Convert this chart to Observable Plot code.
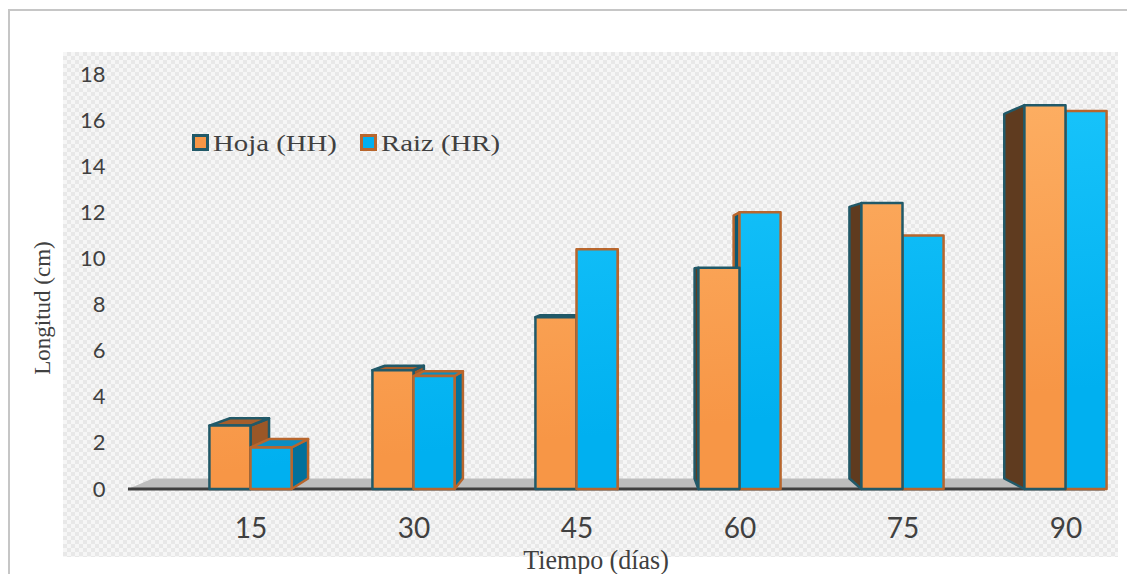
<!DOCTYPE html>
<html><head><meta charset="utf-8">
<script src="https://cdn.jsdelivr.net/npm/d3@7"></script>
<script src="https://cdn.jsdelivr.net/npm/@observablehq/plot@0.6"></script>
<style>
html,body{margin:0;padding:0;background:#fff;}
#wrap{position:relative;width:1127px;height:574px;overflow:hidden;}
#frame{position:absolute;left:8px;top:9px;width:1200px;height:700px;border:2px solid #c6c6c6;box-sizing:border-box;}
#bg{position:absolute;left:63px;top:52px;width:1055px;height:505px;background:repeating-conic-gradient(#e8e8e8 0% 25%, #f6f6f6 0% 50%) 0 0/8px 8px;}
#chart{position:absolute;left:0;top:0;}
#overlay{position:absolute;left:0;top:0;}
</style></head><body>
<div id="wrap"><div id="frame"></div><div id="bg"></div><div id="chart"></div><svg id="overlay" width="1127" height="574"></svg></div>
<script>
// ---- data ----
const dias = ["15", "30", "45", "60", "75", "90"];
const hoja = [2.75, 5.15, 7.45, 9.6, 12.4, 16.65];
const raiz = [1.8, 4.9, 10.4, 12.0, 11.0, 16.4];
const series = ["Hoja (HH)", "Raiz (HR)"];
const yTicks = [0, 2, 4, 6, 8, 10, 12, 14, 16, 18];

const rows = dias.flatMap((d, i) => [
  {dia: d, serie: series[0], value: hoja[i]},
  {dia: d, serie: series[1], value: raiz[i]}
]);

// ---- styles ----
const look = {
  "Hoja (HH)": {grad: "gHH", c0: "#ffb86e", c1: "#f79646", top: "#a65e2b", right: "#9b5727", left: "#5f3b1f", stroke: "#215968", swatch: "#f79646"},
  "Raiz (HR)": {grad: "gHR", c0: "#22ccff", c1: "#00b0f0", top: "#0b8ec2", right: "#02709b", left: "#0d5870", stroke: "#b8662d", swatch: "#00b0f0"}
};

function draw3D(index, scales, values, dims) {
  const X = scales.x, Y = scales.y;
  const bw = X.bandwidth();
  const barW = bw * 0.252;
  const Vx = dims.marginLeft + (dims.width - dims.marginLeft - dims.marginRight) * 0.505;
  const Vy = Y(9.1);
  const s = 0.95;
  const bk = ([x, y]) => [s * x + (1 - s) * Vx, s * y + (1 - s) * Vy];
  const P = pts => pts.map(p => p.join(",")).join(" ");
  const g = d3.create("svg:g");
  const defs = g.append("defs");
  for (const k of series) {
    const L = look[k];
    const lg = defs.append("linearGradient").attr("id", L.grad)
      .attr("gradientUnits", "userSpaceOnUse")
      .attr("x1", 0).attr("x2", 40).attr("y1", Y(18)).attr("y2", Y(0));
    lg.append("stop").attr("offset", "0%").attr("stop-color", L.c0);
    lg.append("stop").attr("offset", "100%").attr("stop-color", L.c1);
  }
  // floor
  const fx0 = dims.marginLeft, fx1 = dims.width - dims.marginRight, fy = Y(0);
  g.append("polygon").attr("points", P([[fx0, fy], [fx1, fy], bk([fx1, fy]), bk([fx0, fy])])).attr("fill", "#bdbdbd");
  g.append("line").attr("x1", fx0).attr("x2", fx1).attr("y1", fy).attr("y2", fy)
    .attr("stroke", "#3f3f3f").attr("stroke-width", 3);
  // bars
  const bars = Array.from(index, i => {
    const d = rows[i];
    const c = X(d.dia) + bw / 2;
    const x0 = d.serie === series[0] ? c - barW : c;
    return {d, x0, x1: x0 + barW, yt: Y(d.value), yb: Y(0), mid: x0 + barW / 2};
  });
  bars.sort((a, b) => Math.abs(b.mid - Vx) - Math.abs(a.mid - Vx));
  for (const b of bars) {
    const L = look[b.d.serie];
    const sw = 2.5;
    if (b.x1 < Vx) {
      g.append("polygon").attr("points", P([[b.x1, b.yt], [b.x1, b.yb], bk([b.x1, b.yb]), bk([b.x1, b.yt])]))
        .attr("fill", L.right).attr("stroke", L.stroke).attr("stroke-width", sw).attr("stroke-linejoin", "round");
    }
    if (b.x0 > Vx) {
      g.append("polygon").attr("points", P([[b.x0, b.yt], [b.x0, b.yb], bk([b.x0, b.yb]), bk([b.x0, b.yt])]))
        .attr("fill", L.left).attr("stroke", L.stroke).attr("stroke-width", sw).attr("stroke-linejoin", "round");
    }
    if (b.yt > Vy) {
      g.append("polygon").attr("points", P([[b.x0, b.yt], [b.x1, b.yt], bk([b.x1, b.yt]), bk([b.x0, b.yt])]))
        .attr("fill", L.top).attr("stroke", L.stroke).attr("stroke-width", sw).attr("stroke-linejoin", "round");
    }
    g.append("rect").attr("x", b.x0).attr("y", b.yt).attr("width", b.x1 - b.x0).attr("height", b.yb - b.yt)
      .attr("fill", `url(#${L.grad})`).attr("stroke", L.stroke).attr("stroke-width", sw).attr("stroke-linejoin", "round");
  }
  return g.node();
}

const chart = Plot.plot({
  width: 1127,
  height: 574,
  marginLeft: 128,
  marginRight: 22,
  marginTop: 74,
  marginBottom: 85,
  style: {background: "transparent", color: "#404040", fontFamily: "Lato, 'Open Sans', sans-serif"},
  x: {type: "band", domain: dias, range: [168.35, 1148.15], padding: 0},
  y: {domain: [0, 18]},
  marks: [
    Plot.barY(rows, {x: "dia", y: "value", fill: d => look[d.serie].swatch, render: draw3D}),
    Plot.axisY(yTicks, {tickSize: 0, tickPadding: 23, fontSize: 22, label: null}),
    Plot.axisX({tickSize: 0, tickPadding: 29, fontSize: 28, label: null})
  ]
});
document.getElementById("chart").appendChild(chart);

// ---- legend & titles ----
const ov = d3.select("#overlay");
const serif = "'Liberation Serif', 'Times New Roman', serif";
const legendX = [193.5, 361.5];
series.forEach((k, i) => {
  const L = look[k];
  ov.append("rect").attr("x", legendX[i]).attr("y", 135.5).attr("width", 14).attr("height", 14)
    .attr("fill", L.swatch).attr("stroke", i === 0 ? "#215968" : "#b8662d").attr("stroke-width", 3);
  ov.append("text").attr("transform", `translate(${legendX[i] + 19.5},151) scale(1.2,1)`)
    .attr("font-family", serif).attr("font-size", 24).attr("fill", "#404040").text(k);
});
ov.append("text").attr("transform", "translate(596,569) scale(1,1.06)")
  .attr("text-anchor", "middle").attr("font-family", serif).attr("font-size", 26).attr("fill", "#404040")
  .text("Tiempo (días)");
ov.append("text").attr("transform", "translate(50,308) rotate(-90)")
  .attr("text-anchor", "middle").attr("font-family", serif).attr("font-size", 23).attr("fill", "#404040")
  .text("Longitud (cm)");
</script>
</body></html>
